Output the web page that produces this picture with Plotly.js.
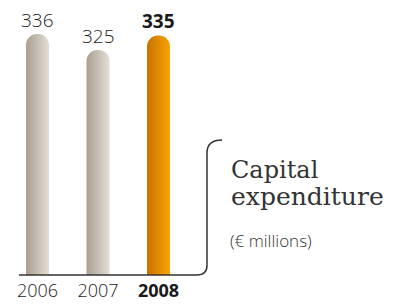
<!DOCTYPE html>
<html>
<head>
<meta charset="utf-8">
<script src="https://cdn.plot.ly/plotly-3.0.1.min.js"></script>
<style>html,body{margin:0;padding:0;background:#fff;}#chart{width:414px;height:304px;}</style>
</head>
<body>
<div id="chart"></div>
<script>
var years = ['2006', '2007', '2008'];
var yearLabels = ['2006', '2007', '<b>2008</b>'];
var capex = [336, 325, 335];
var valueLabels = ['336', '325', '<b>335</b>'];
var barColors = ['#c5bdb1', '#c5bdb1', '#e68c00'];
var gradLeft = ['#a99f90', '#a99f90', '#c97200'];
var gradRight = ['#e3ded5', '#e3ded5', '#f8a400'];
var titleLines = ['Capital', 'expenditure'];
var unitText = '(€ millions)';

var W = 414, H = 304;
function px(x) { return x / W; }
function py(y) { return 1 - y / H; }

var trace = {
  type: 'bar',
  x: years,
  y: capex,
  width: 0.38,
  marker: { color: barColors, cornerradius: 11, line: { width: 0 } },
  hoverinfo: 'skip'
};

var annotations = [];
for (var i = 0; i < years.length; i++) {
  annotations.push({
    x: i, y: capex[i], xref: 'x', yref: 'y',
    text: valueLabels[i], showarrow: false, yanchor: 'bottom', yshift: -1,
    font: { family: 'Open Sans', size: 19, color: '#1a1a1a', weight: 300 }
  });
}
annotations.push({
  x: px(229), y: py(185.5), xref: 'paper', yref: 'paper', xanchor: 'left', yanchor: 'bottom',
  text: titleLines[0], showarrow: false,
  font: { family: 'DejaVu Serif', size: 24, color: '#333333' }
});
annotations.push({
  x: px(229), y: py(212.5), xref: 'paper', yref: 'paper', xanchor: 'left', yanchor: 'bottom',
  text: titleLines[1], showarrow: false,
  font: { family: 'DejaVu Serif', size: 25, color: '#333333' }
});
annotations.push({
  x: px(228), y: py(240), xref: 'paper', yref: 'paper', xanchor: 'left', yanchor: 'middle',
  text: unitText, showarrow: false,
  font: { family: 'Open Sans', size: 17, color: '#333333', weight: 300 }
});

var path = 'M ' + px(19) + ' ' + py(275) +
  ' L ' + px(197) + ' ' + py(275) +
  ' Q ' + px(207) + ' ' + py(275) + ' ' + px(207) + ' ' + py(265) +
  ' L ' + px(207) + ' ' + py(153) +
  ' Q ' + px(207) + ' ' + py(140) + ' ' + px(222) + ' ' + py(140);

var layout = {
  width: W, height: H,
  margin: { l: 0, r: 0, t: 0, b: 0, pad: 0 },
  paper_bgcolor: '#ffffff', plot_bgcolor: '#ffffff',
  showlegend: false,
  xaxis: {
    domain: [px(7.25), px(188.75)],
    range: [-0.5, 2.5],
    type: 'category',
    tickmode: 'array', tickvals: years, ticktext: yearLabels,
    ticks: '', showgrid: false, zeroline: false, showline: false,
    ticklabelstandoff: 3,
    tickfont: { family: 'Open Sans', size: 18, color: '#1a1a1a', weight: 300 },
    fixedrange: true
  },
  yaxis: {
    domain: [1 - 275 / H, 1],
    range: [170.3, 170.3 + 275 / 1.4545],
    visible: false, showgrid: false, zeroline: false, fixedrange: true
  },
  shapes: [{
    type: 'path', xref: 'paper', yref: 'paper', path: path,
    line: { color: '#333333', width: 1.5 }
  }],
  annotations: annotations
};

function applyGradients(gd) {
  var svg = gd.querySelector('svg.main-svg');
  if (!svg) return;
  var NS = 'http://www.w3.org/2000/svg';
  var defs = svg.querySelector('defs') || svg.insertBefore(document.createElementNS(NS, 'defs'), svg.firstChild);
  var paths = gd.querySelectorAll('.barlayer .point path');
  for (var k = 0; k < paths.length; k++) {
    var g = document.createElementNS(NS, 'linearGradient');
    g.setAttribute('id', 'bargrad' + k);
    g.setAttribute('x1', '0'); g.setAttribute('x2', '1');
    g.setAttribute('y1', '0'); g.setAttribute('y2', '0');
    var s1 = document.createElementNS(NS, 'stop');
    s1.setAttribute('offset', '0'); s1.setAttribute('stop-color', gradLeft[k]);
    var s2 = document.createElementNS(NS, 'stop');
    s2.setAttribute('offset', '1'); s2.setAttribute('stop-color', gradRight[k]);
    g.appendChild(s1); g.appendChild(s2);
    defs.appendChild(g);
    paths[k].style.fill = 'url(#bargrad' + k + ')';
  }
}

Plotly.newPlot('chart', [trace], layout, { displayModeBar: false, staticPlot: true })
  .then(applyGradients);
</script>
</body>
</html>
